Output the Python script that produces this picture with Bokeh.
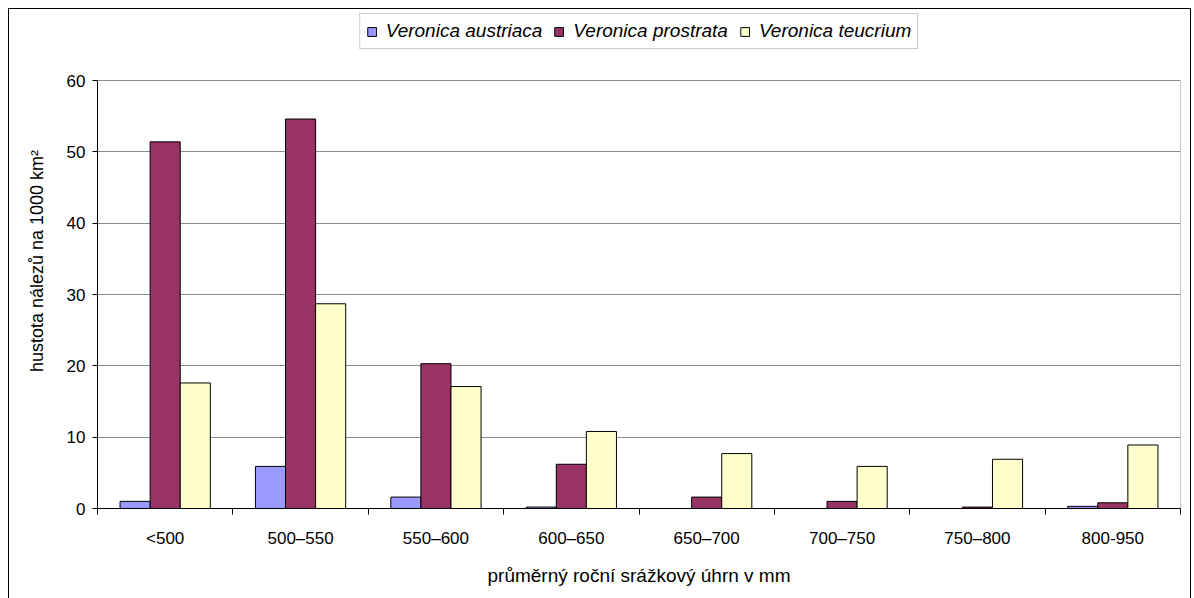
from bokeh.plotting import figure
from bokeh.models import Range1d, FixedTicker, Legend, LegendItem, ColumnDataSource
from bokeh.transform import dodge
from bokeh.embed import file_html
from bokeh.resources import INLINE

categories = ["<500", "500–550", "550–600", "600–650", "650–700", "700–750", "750–800", "800-950"]
austriaca = [1.0, 5.9, 1.6, 0.2, 0.0, 0.0, 0.0, 0.3]
prostrata = [51.4, 54.6, 20.3, 6.2, 1.6, 1.0, 0.2, 0.8]
teucrium = [17.6, 28.7, 17.1, 10.8, 7.7, 5.9, 6.9, 8.9]
series_names = ["Veronica austriaca", "Veronica prostrata", "Veronica teucrium"]
colors = ["#9999FF", "#993366", "#FFFFCC"]
y_ticks = [0, 10, 20, 30, 40, 50, 60]
x_title = "průměrný roční srážkový úhrn v mm"
y_title = "hustota nálezů na 1000 km²"

FONT = "Liberation Sans"
n = len(categories)
centers = [i + 0.5 for i in range(n)]
src = ColumnDataSource(dict(x=centers, a=austriaca, p=prostrata, t=teucrium))

# pixel layout
frame_top, frame_bottom = 4, 93        # borders inside figure content
axis_px = 428                          # pixels for 0..60
fig_h = 592
frame_h = fig_h - frame_top - frame_bottom
y_max = y_ticks[-1]
y_end = frame_h * y_max / axis_px      # headroom above 60 holds the legend

p = figure(width=1183, height=fig_h, output_backend="svg", toolbar_location=None,
           x_range=Range1d(0, n), y_range=Range1d(0, y_end),
           min_border_left=88, min_border_right=12, min_border_top=frame_top,
           min_border_bottom=frame_bottom, margin=(8, 0, 0, 8))
p.styles = {"border": "1px solid black"}

bw = 1 / 4.5
renderers = []
for key, off, col in zip(["a", "p", "t"], [-bw, 0, bw], colors):
    r = p.vbar(x=dodge("x", off, range=p.x_range), top=key, width=bw, source=src,
               fill_color=col, line_color="black", line_width=1)
    renderers.append(r)

# right edge of the plot area (grey), from 0 to the top tick
p.segment(x0=[n], y0=[y_ticks[0]], x1=[n], y1=[y_max], line_color="#8c8c8c", line_width=1)

# axes
p.xaxis.ticker = FixedTicker(ticks=centers, minor_ticks=list(range(n + 1)))
p.xaxis.major_label_overrides = {c: lab for c, lab in zip(centers, categories)}
p.xaxis.major_tick_line_color = None
p.xaxis.minor_tick_line_color = "black"
p.xaxis.minor_tick_out = 6
p.xaxis.minor_tick_in = 0
p.xaxis.axis_line_color = "black"
p.xaxis.major_label_text_font = FONT
p.xaxis.major_label_text_font_size = "17px"
p.xaxis.major_label_text_color = "black"
p.xaxis.major_label_standoff = 14
p.xaxis.axis_label = x_title
p.xaxis.axis_label_text_font = FONT
p.xaxis.axis_label_text_font_size = "19px"
p.xaxis.axis_label_text_font_style = "normal"
p.xaxis.axis_label_text_color = "black"
p.xaxis.axis_label_standoff = 14

p.yaxis.ticker = FixedTicker(ticks=y_ticks, minor_ticks=[])
p.yaxis.bounds = (y_ticks[0], y_max)
p.yaxis.major_tick_out = 5
p.yaxis.major_tick_in = 0
p.yaxis.axis_line_color = "black"
p.yaxis.major_label_text_font = FONT
p.yaxis.major_label_text_font_size = "17px"
p.yaxis.major_label_text_color = "black"
p.yaxis.major_label_standoff = 7
p.yaxis.axis_label = y_title
p.yaxis.axis_label_text_font = FONT
p.yaxis.axis_label_text_font_size = "18px"
p.yaxis.axis_label_text_font_style = "normal"
p.yaxis.axis_label_text_color = "black"
p.yaxis.axis_label_standoff = 17

p.xgrid.grid_line_color = None
p.ygrid.grid_line_color = "#8c8c8c"
p.outline_line_color = None

legend = Legend(items=[LegendItem(label=nm, renderers=[r]) for nm, r in zip(series_names, renderers)],
                orientation="horizontal", location="top_center")
legend.label_text_font = FONT
legend.label_text_font_style = "italic"
legend.label_text_font_size = "19px"
legend.label_text_color = "black"
legend.glyph_width = 11
legend.glyph_height = 11
legend.label_height = 20
legend.label_standoff = 9
legend.spacing = 11
legend.padding = 6
legend.margin = 0
legend.border_line_color = "#9a9a9a"
legend.border_line_width = 1
legend.background_fill_alpha = 1
p.add_layout(legend, "center")

open("out.html", "w").write(file_html(p, INLINE))
